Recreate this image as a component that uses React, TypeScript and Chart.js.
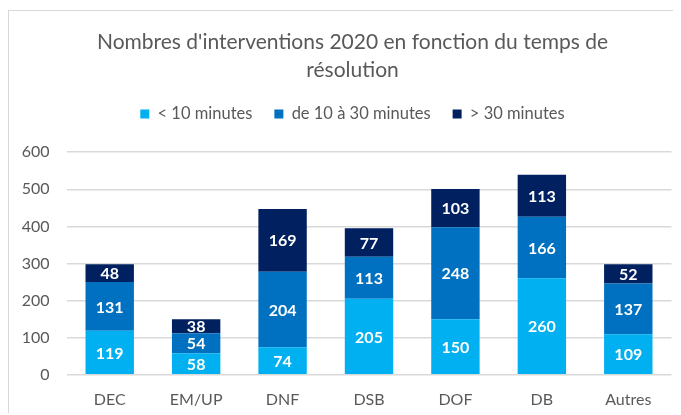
import React, { useEffect, useRef } from "react";
import { Chart, registerables } from "chart.js";

Chart.register(...registerables);

const categories = ["DEC", "EM/UP", "DNF", "DSB", "DOF", "DB", "Autres"];
const under10 = [119, 58, 74, 205, 150, 260, 109];
const from10to30 = [131, 54, 204, 113, 248, 166, 137];
const over30 = [48, 38, 169, 77, 103, 113, 52];
const seriesLabels = ["< 10 minutes", "de 10 à 30 minutes", "> 30 minutes"];
const titleLines = ["Nombres d'interventions 2020 en fonction du temps de", "résolution"];

const FONT = "Lato, 'Open Sans', sans-serif";

const dataLabels = {
  id: "dataLabels",
  afterDatasetsDraw(chart: any) {
    const ctx = chart.ctx;
    ctx.save();
    ctx.fillStyle = "#ffffff";
    ctx.font = `bold 16px ${FONT}`;
    ctx.textAlign = "center";
    ctx.textBaseline = "middle";
    chart.data.datasets.forEach((ds: any, i: number) => {
      const meta = chart.getDatasetMeta(i);
      meta.data.forEach((el: any, j: number) => {
        const v = ds.data[j];
        const y = (el.y + el.base) / 2;
        ctx.fillText(String(v), el.x, y + 1);
      });
    });
    ctx.restore();
  },
};

const legendSpacer = {
  id: "legendSpacer",
  beforeInit(chart: any) {
    const legend = chart.legend;
    const orig = legend.fit;
    legend.fit = function () {
      orig.call(this);
      this.height += 20;
    };
  },
};

export default function App() {
  const ref = useRef<HTMLCanvasElement>(null);
  useEffect(() => {
    if (!ref.current) return;
    const chart = new Chart(ref.current, {
      type: "bar",
      data: {
        labels: categories,
        datasets: [
          { label: seriesLabels[0], data: under10, backgroundColor: "#00B0F0" },
          { label: seriesLabels[1], data: from10to30, backgroundColor: "#0070C0" },
          { label: seriesLabels[2], data: over30, backgroundColor: "#002060" },
        ].map((d) => ({ ...d, categoryPercentage: 1, barPercentage: 0.56, borderWidth: 0 })),
      },
      options: {
        responsive: false,
        animation: false,
        layout: { padding: { left: 1, right: 1, top: 17, bottom: 0 } },
        plugins: {
          title: {
            display: true,
            text: titleLines,
            color: "#595959",
            font: { family: FONT, size: 21, weight: "normal" as any, lineHeight: 1.35 },
            padding: { top: 0, bottom: -1 },
          },
          legend: {
            position: "top",
            labels: {
              color: "#595959",
              font: { family: FONT, size: 16.5 },
              boxWidth: 9,
              boxHeight: 9,
              padding: 22,
            },
          },
          tooltip: { enabled: false },
        },
        scales: {
          x: {
            stacked: true,
            grid: { display: false },
            border: { display: false },
            ticks: { color: "#595959", font: { family: FONT, size: 16 }, padding: 7 },
          },
          y: {
            stacked: true,
            min: 0,
            max: 600,
            ticks: { stepSize: 100, color: "#595959", font: { family: FONT, size: 16 }, padding: 17 },
            grid: { color: "#d9d9d9", lineWidth: 1.5, drawTicks: false },
            border: { display: false },
            afterFit(scale: any) {
              scale.width = 56.5;
            },
          },
          y2: {
            type: "linear",
            position: "right",
            display: true,
            grid: { display: false },
            border: { display: false },
            ticks: { display: false },
            afterFit(scale: any) {
              scale.width = 23.5;
            },
          },
        },
      },
      plugins: [dataLabels, legendSpacer],
    });
    return () => chart.destroy();
  }, []);
  return (
    <div
      style={{
        position: "relative",
        top: 2,
        width: 673,
        height: 405,
        overflow: "hidden",
        borderTop: "1.5px solid #d9d9d9",
        borderLeft: "1.5px solid #d9d9d9",
        boxSizing: "border-box",
        background: "#fff",
      }}
    >
      <canvas ref={ref} width={687} height={405} style={{ display: "block" }} />
    </div>
  );
}
